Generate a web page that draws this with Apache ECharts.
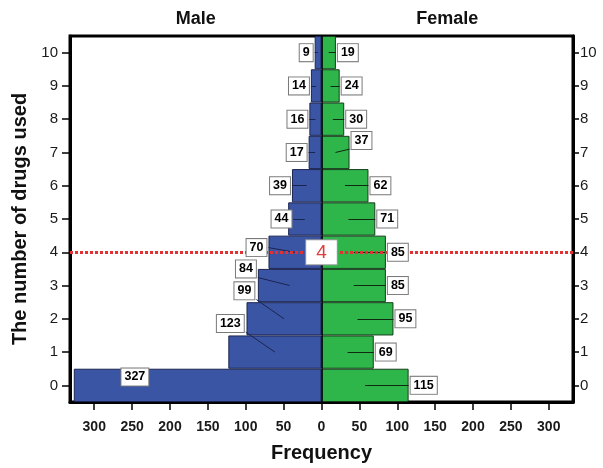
<!DOCTYPE html>
<html><head><meta charset="utf-8">
<script src="https://cdn.jsdelivr.net/npm/echarts@6/dist/echarts.min.js"></script>
<style>html,body{margin:0;padding:0;background:#fff}#c{width:603px;height:468px}</style>
</head><body><div id="c"></div>
<script>
// ---- data ----
const categories = ['0','1','2','3','4','5','6','7','8','9','10'];
const maleCounts = [327,123,99,84,70,44,39,17,16,14,9];
const femaleCounts = [115,69,95,85,85,71,62,37,30,24,19];
const xTickValues = [-300,-250,-200,-150,-100,-50,0,50,100,150,200,250,300];
const referenceLevel = 4;
const panelTitles = ['Male','Female'];

// ---- label placement (layout only): [shift toward centre in frequency units, shift up in category units]
const maleLabelNudge = {0:[101,0.25],1:[23,0.86],2:[13,0.84],3:[0,0.5],4:[0,0.14],5:[7,0]};
const femaleLabelNudge = {7:[0,0.36]};

const BLUE = '#3b55a5', GREEN = '#2fb64a';
const FONT = 'Liberation Sans, Arial, sans-serif';

function buildLabels(counts, side, nudges) {
  const pts = [], leaders = [];
  counts.forEach((v, i) => {
    const n = nudges[i] || [0, 0];
    const ax = side * (v - n[0]);
    const ay = i + n[1];
    pts.push([ax, ay, String(v)]);
    if (n[0] < 50) {
      const endY = n[1] > 0.3 ? ay - 0.26 : ay;
      leaders.push({coords: [[side * v / 2, i], [ax, endY]]});
    }
  });
  return {pts, leaders};
}
const male = buildLabels(maleCounts, -1, maleLabelNudge);
const female = buildLabels(femaleCounts, 1, femaleLabelNudge);

const boxLabel = {
  show: true, formatter: p => p.value[2], distance: 2, opacity: 1,
  color: '#000', fontFamily: FONT, fontSize: 12.5, fontWeight: 'bold',
  backgroundColor: '#fff', borderColor: '#7a7a7a', borderWidth: 1,
  padding: [2, 3, 1, 3], lineHeight: 14
};

const chart = echarts.init(document.getElementById('c'), null, {renderer: 'canvas'});
function catAxis(pos, tickLen, margin) {
  return {
    type: 'category', data: categories, position: pos,
    axisLine: {show: true, onZero: false, lineStyle: {color: '#000', width: 3}},
    axisTick: {show: true, inside: false, alignWithLabel: true, length: tickLen, lineStyle: {color: '#000', width: 1.5}},
    axisLabel: {show: true, fontSize: 15, color: '#1a1a1a', fontFamily: FONT, margin: margin},
    splitLine: {show: false}
  };
}
const leftAxis = catAxis('left', 8, 12);
leftAxis.name = 'The number of drugs used';
leftAxis.nameLocation = 'middle';
leftAxis.nameGap = 33;
leftAxis.nameTextStyle = {fontWeight: 'bold', fontSize: 20, color: '#111', fontFamily: FONT};

chart.setOption({
  animation: false,
  grid: {left: 70, right: 30, top: 36, bottom: 62, show: true, borderColor: '#000', borderWidth: 3, backgroundColor: '#fff'},
  xAxis: [{
    type: 'value', min: -332, max: 332,
    axisLine: {show: true, onZero: false, lineStyle: {color: '#000', width: 3}},
    axisTick: {show: true, customValues: xTickValues, length: 8, lineStyle: {color: '#000', width: 1.5}},
    axisLabel: {customValues: xTickValues, formatter: v => Math.abs(v), color: '#1a1a1a', fontWeight: 'bold', fontSize: 14, fontFamily: FONT, margin: 18},
    splitLine: {show: false},
    name: 'Frequency', nameLocation: 'middle', nameGap: 41,
    nameTextStyle: {fontWeight: 'bold', fontSize: 20, color: '#111', fontFamily: FONT}
  }],
  yAxis: [
    leftAxis,
    catAxis('right', 6, 7),
    {type: 'value', min: -0.5, max: 10.5, show: false, position: 'right'}
  ],
  series: [
    {type: 'bar', name: 'Male', data: maleCounts.map(v => -v), yAxisIndex: 0,
     barWidth: '100%', barGap: '-100%', barCategoryGap: 0,
     itemStyle: {color: BLUE, borderColor: '#1b2450', borderWidth: 1},
     markLine: {silent: true, symbol: 'none', label: {show: false},
       lineStyle: {color: '#000', width: 1.5, type: 'solid'}, data: [{xAxis: 0}]}},
    {type: 'bar', name: 'Female', data: femaleCounts, yAxisIndex: 0,
     barWidth: '100%', barGap: '-100%', barCategoryGap: 0,
     itemStyle: {color: GREEN, borderColor: '#163d1b', borderWidth: 1}},
    {type: 'lines', coordinateSystem: 'cartesian2d', xAxisIndex: 0, yAxisIndex: 2, silent: true, z: 6,
     lineStyle: {color: '#1b2450', width: 1, opacity: 1}, data: male.leaders},
    {type: 'lines', coordinateSystem: 'cartesian2d', xAxisIndex: 0, yAxisIndex: 2, silent: true, z: 6,
     lineStyle: {color: '#102a12', width: 1, opacity: 1}, data: female.leaders},
    {type: 'scatter', name: 'ref', xAxisIndex: 0, yAxisIndex: 2, symbolSize: 0, z: 8, silent: true,
     itemStyle: {opacity: 1},
     data: [[0, referenceLevel, String(referenceLevel)]],
     label: {show: true, position: 'inside', opacity: 1, formatter: p => p.value[2], color: '#e03a3a', fontSize: 19,
       fontFamily: FONT, backgroundColor: '#fff', borderColor: '#9a9a9a', borderWidth: 1, padding: [3, 10, 2, 10]},
     markLine: {silent: true, symbol: 'none', label: {show: false}, z: 7,
       lineStyle: {color: '#e43030', width: 3, type: [3, 2]}, data: [{yAxis: referenceLevel}]}},
    {type: 'scatter', name: 'maleLabels', xAxisIndex: 0, yAxisIndex: 2, symbolSize: 0, z: 10, silent: true,
     itemStyle: {opacity: 1},
     data: male.pts, label: Object.assign({}, boxLabel, {position: 'left'})},
    {type: 'scatter', name: 'femaleLabels', xAxisIndex: 0, yAxisIndex: 2, symbolSize: 0, z: 10, silent: true,
     itemStyle: {opacity: 1},
     data: female.pts, label: Object.assign({}, boxLabel, {position: 'right'})}
  ]
});
// panel titles centred over each half of the plot
const topY = chart.convertToPixel({yAxisIndex: 2}, 10.5);
const xs = [chart.convertToPixel({xAxisIndex: 0}, -166), chart.convertToPixel({xAxisIndex: 0}, 166)];
chart.setOption({graphic: panelTitles.map((t, k) => ({
  type: 'text', x: xs[k], y: topY - 8,
  style: {text: t, textAlign: 'center', textVerticalAlign: 'bottom', fill: '#111', font: 'bold 18px ' + FONT}
}))});
</script></body></html>
